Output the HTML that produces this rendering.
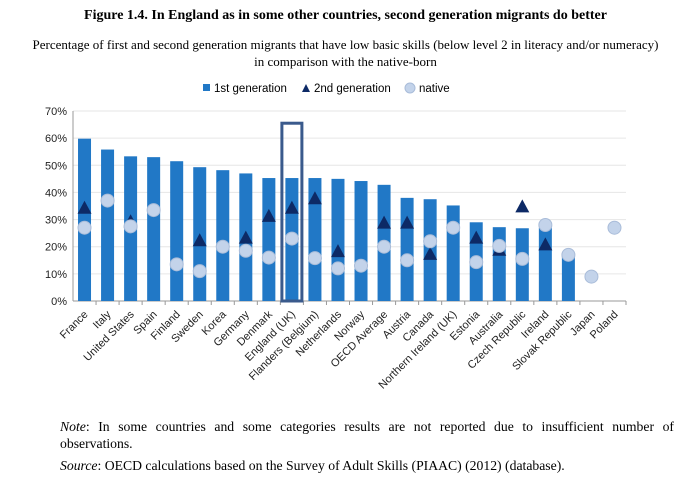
<!DOCTYPE html>
<html><head><meta charset="utf-8"><style>
body{margin:0;background:#fff;width:691px;height:483px;overflow:hidden;font-family:"Liberation Serif",serif;}
.t{position:absolute;left:0;width:691px;text-align:center;}
</style></head><body>
<div class="t" style="top:8px;font-weight:bold;font-size:14px;">Figure 1.4. In England as in some other countries, second generation migrants do better</div>
<div class="t" style="top:36px;font-size:13px;line-height:17px;">Percentage of first and second generation migrants that have low basic skills (below level 2 in literacy and/or numeracy)<br>in comparison with the native-born</div>
<svg id="c" width="691" height="483" style="position:absolute;left:0;top:0"></svg>
<div style="position:absolute;left:60px;top:418px;width:614px;font-size:13.7px;line-height:17px;">
<div style="text-align:justify;text-align-last:justify;white-space:nowrap;overflow:hidden;"><i>Note</i>: In some countries and some categories results are not reported due to insufficient number of</div>
<div>observations.</div></div>
<div style="position:absolute;left:60px;top:458px;font-size:13.7px;"><i>Source</i>: OECD calculations based on the Survey of Adult Skills (PIAAC) (2012) (database).</div>
<script>
const categories=["France","Italy","United States","Spain","Finland","Sweden","Korea","Germany","Denmark","England (UK)","Flanders (Belgium)","Netherlands","Norway","OECD Average","Austria","Canada","Northern Ireland (UK)","Estonia","Australia","Czech Republic","Ireland","Slovak Republic","Japan","Poland"];
const firstGen=[59.8,55.8,53.3,53,51.5,49.3,48.2,47,45.3,45.3,45.3,45,44.2,42.8,38,37.5,35.2,29,27.2,26.8,27,16.5,null,null];
const secondGen=[34,null,29,null,null,22,null,23,31,34,37.5,18,null,28.5,28.5,17,null,23,18.5,34.5,20.5,null,null,null];
const native=[27,37,27.5,33.5,13.5,11,20,18.5,16,23,15.8,12,13,20,15,22,27,14.3,20.3,15.5,28,17,9,27];
const yTicks=[0,10,20,30,40,50,60,70];
const NS="http://www.w3.org/2000/svg",svg=document.getElementById('c');
const x0=73,x1=626,y0=301,y1=111,step=(x1-x0)/categories.length;
const X=i=>x0+step*(i+0.5), Y=v=>y0-(v/70)*(y0-y1);
function el(t,a,p){const e=document.createElementNS(NS,t);for(const k in a)e.setAttribute(k,a[k]);(p||svg).appendChild(e);return e;}
yTicks.forEach(v=>{
 if(v>0){const g=el('line',{x1:x0,x2:x1,y1:Y(v),y2:Y(v),stroke:'#e6e6e6'});
 
 }
 const t=el('text',{x:x0-6,y:Y(v)+4,'text-anchor':'end','font-size':11,'font-family':'Liberation Sans, sans-serif',fill:'#222'});t.textContent=v+'%';
 
 
});
let a=el('line',{x1:x0,x2:x0,y1:y1,y2:y0,stroke:'#999'});
a=el('line',{x1:x0,x2:x1,y1:y0,y2:y0,stroke:'#999'});
categories.forEach((c,i)=>{
 const tk=el('line',{x1:x0+step*(i+1),x2:x0+step*(i+1),y1:y0,y2:y0+4,stroke:'#999'});
 
 
 if(firstGen[i]!=null){const b=el('rect',{x:X(i)-6.5,y:Y(firstGen[i]),width:13,height:y0-Y(firstGen[i]),fill:'#2178c6'});
 
 }
 const t=el('text',{x:X(i)+4,y:y0+14,'text-anchor':'end','font-size':11,'font-family':'Liberation Sans, sans-serif',fill:'#222',transform:`rotate(-45 ${X(i)+4} ${y0+14})`});t.textContent=c;
 
 
});
categories.forEach((c,i)=>{
 if(secondGen[i]!=null){const y=Y(secondGen[i]);const p=el('polygon',{points:`${X(i)-7},${y+5} ${X(i)+7},${y+5} ${X(i)},${y-8}`,fill:'#0d2a66'});
 
 }
 if(native[i]!=null){const p=el('circle',{cx:X(i),cy:Y(native[i]),r:6.5,fill:'#c3d3ea',stroke:'#a9bcd9'});
 
 }
});
const hi=9;const h=el('rect',{x:X(hi)-10,y:Y(65.5),width:20,height:y0-Y(65.5),fill:'none',stroke:'#3a5a8c','stroke-width':3});


const lg=el('g',{});
let r=el('rect',{x:203,y:84,width:7,height:7,fill:'#2178c6'},lg);
let t=el('text',{x:214,y:92,'font-size':11.5,'font-family':'Liberation Sans, sans-serif'},lg);t.textContent='1st generation';
r=el('polygon',{points:'302,92 310,92 306,84',fill:'#0d2a66'},lg);
t=el('text',{x:314,y:92,'font-size':11.5,'font-family':'Liberation Sans, sans-serif'},lg);t.textContent='2nd generation';
r=el('circle',{cx:410,cy:88,r:5,fill:'#c3d3ea',stroke:'#a9bcd9'},lg);
t=el('text',{x:419,y:92,'font-size':11.5,'font-family':'Liberation Sans, sans-serif'},lg);t.textContent='native';
</script>
</body></html>
